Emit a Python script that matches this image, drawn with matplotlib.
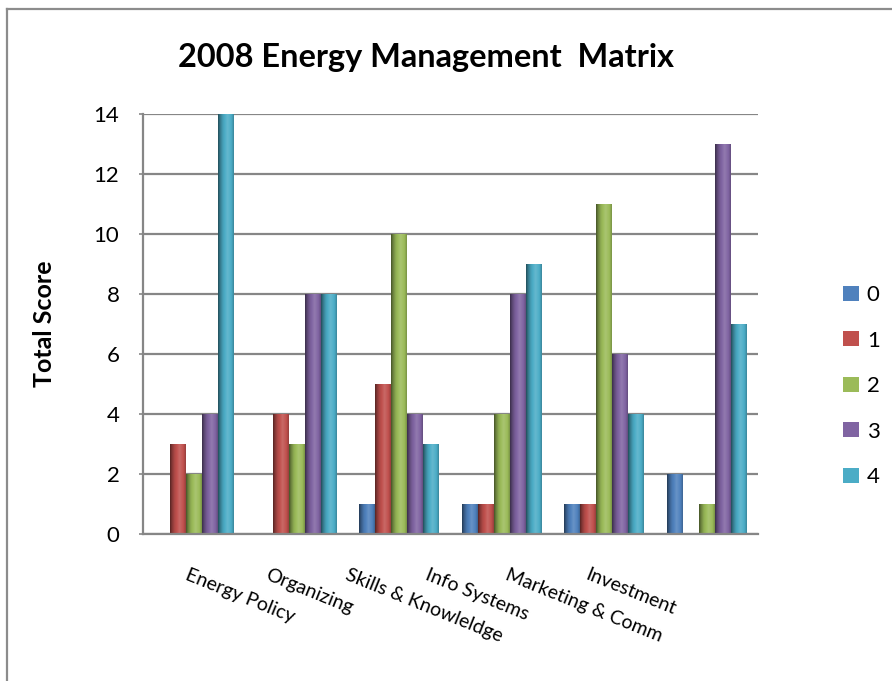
import numpy as np
import matplotlib
matplotlib.use("Agg")
import matplotlib.pyplot as plt
import matplotlib.colors as mcolors
from matplotlib.patches import Patch
from matplotlib.lines import Line2D
from matplotlib.transforms import ScaledTranslation

categories = ["Energy Policy", "Organizing", "Skills & Knowleldge",
              "Info Systems", "Marketing & Comm", "Investment"]
series_names = ["0", "1", "2", "3", "4"]
s0 = [0, 0, 1, 1, 1, 2]
s1 = [3, 4, 5, 1, 1, 0]
s2 = [2, 3, 10, 4, 11, 1]
s3 = [4, 8, 4, 8, 6, 13]
s4 = [14, 8, 3, 9, 4, 7]
series_values = [s0, s1, s2, s3, s4]
colors = ["#4F81BD", "#C0504D", "#9BBB59", "#8064A2", "#4BACC6"]
yticks = [0, 2, 4, 6, 8, 10, 12, 14]
title = "2008 Energy Management  Matrix"
ylabel = "Total Score"

FONT = "Lato"
plt.rcParams["font.family"] = [FONT, "DejaVu Sans"]

W, H = 892, 681
fig = plt.figure(figsize=(W / 100, H / 100), dpi=100)
ax = fig.add_axes([143 / W, 1 - 534 / H, (758 - 143) / W, (534 - 114) / H])

x = np.arange(len(categories))
bw = 0.156


def shade(color):
    base = np.array(mcolors.to_rgb(color))
    n = 64
    t = np.linspace(0, 1, n)
    f = np.interp(t, [0, 0.12, 0.3, 0.6, 0.85, 1.0], [0.45, 0.68, 0.92, 1.12, 1.0, 0.78])
    rows = []
    for fi in f:
        if fi <= 1:
            c = base * fi
        else:
            c = base + (1 - base) * (fi - 1) * 1.2
        rows.append(np.clip(c, 0, 1))
    return np.array(rows)[None, :, :]


for j, (vals, col) in enumerate(zip(series_values, colors)):
    bars = ax.bar(x + (j - 2) * bw, vals, width=bw, color=col, zorder=2,
                  linewidth=0)
    img = shade(col)
    for b in bars:
        h = b.get_height()
        if h <= 0:
            continue
        x0 = b.get_x()
        ax.imshow(img, extent=(x0, x0 + b.get_width(), 0, h), aspect="auto",
                  interpolation="bilinear", zorder=3)

ax.set_xlim(-0.5, len(categories) - 0.5)
ax.set_ylim(0, 14)
ax.set_yticks(yticks)
ax.set_yticklabels([str(v) for v in yticks], fontsize=16)
ax.yaxis.grid(True, color="#868686", linewidth=1.6, zorder=1)
ax.set_axisbelow(True)
for s in ["top", "right"]:
    ax.spines[s].set_visible(False)
for s in ["left", "bottom"]:
    ax.spines[s].set_color("#868686")
    ax.spines[s].set_linewidth(1.6)
    ax.spines[s].set_zorder(4)
ax.tick_params(axis="y", length=3, color="#868686", width=1.2, pad=14)
ax.tick_params(axis="x", length=0, pad=23)

ax.set_xticks(x)
ax.set_xticklabels(categories, fontsize=14, rotation=-22, ha="left",
                   va="top", rotation_mode="anchor")
for i, lab in enumerate(ax.get_xticklabels()):
    dx_px = -5 - 22.5 * i
    lab.set_transform(lab.get_transform() + ScaledTranslation(dx_px / 100, 0, fig.dpi_scale_trans))

fig.text(426 / W, 1 - 57 / H, title, fontsize=23.4, fontweight="bold",
         ha="center", va="center")
fig.text(45 / W, 1 - 324 / H, ylabel, fontsize=18, fontweight="bold",
         rotation=90, ha="center", va="center")

handles = [Patch(facecolor=c, edgecolor="none") for c in colors]
leg = fig.legend(handles, series_names, loc="upper left",
                 bbox_to_anchor=(843 / W, 1 - 285 / H), frameon=False,
                 fontsize=16, handlelength=0.72, handleheight=0.65,
                 handletextpad=0.35, labelspacing=1.15, borderaxespad=0,
                 borderpad=0)

fig.add_artist(Line2D([6.5 / W, 6.5 / W], [0, 1 - 9 / H], transform=fig.transFigure,
                      color="#8c8c8c", linewidth=1.6))
fig.add_artist(Line2D([6.5 / W, 1], [1 - 9 / H, 1 - 9 / H], transform=fig.transFigure,
                      color="#8c8c8c", linewidth=1.6))

fig.savefig("out.png", dpi=100)
